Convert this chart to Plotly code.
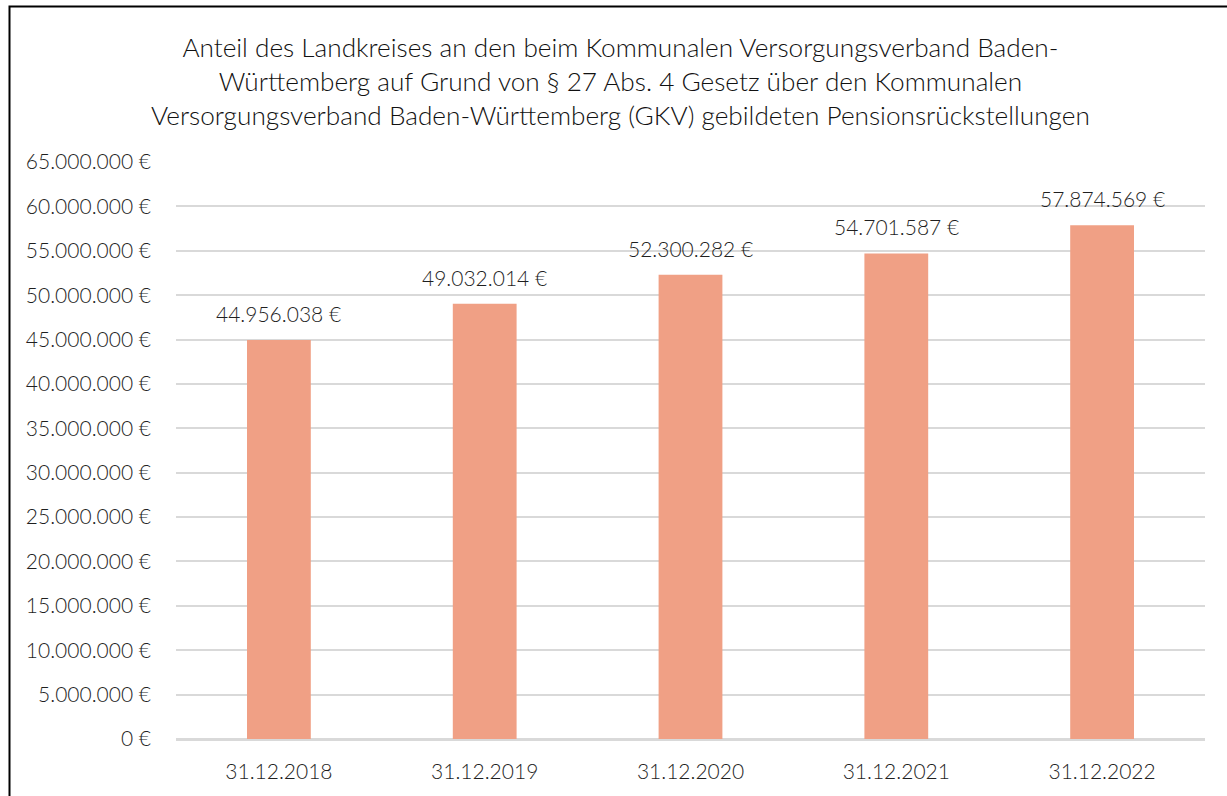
import plotly.graph_objects as go

categories = ["31.12.2018", "31.12.2019", "31.12.2020", "31.12.2021", "31.12.2022"]
values = [44956038, 49032014, 52300282, 54701587, 57874569]
tick_vals = [0, 5e6, 10e6, 15e6, 20e6, 25e6, 30e6, 35e6, 40e6, 45e6, 50e6, 55e6, 60e6, 65e6]
tick_text = ["0 €", "5.000.000 €", "10.000.000 €", "15.000.000 €", "20.000.000 €", "25.000.000 €",
             "30.000.000 €", "35.000.000 €", "40.000.000 €", "45.000.000 €", "50.000.000 €",
             "55.000.000 €", "60.000.000 €", "65.000.000 €"]
title_lines = [
    "Anteil des Landkreises an den beim Kommunalen Versorgungsverband Baden-",
    "Württemberg auf Grund von § 27 Abs. 4 Gesetz über den Kommunalen",
    "Versorgungsverband Baden-Württemberg (GKV) gebildeten Pensionsrückstellungen",
]

def fmt_eur(v):
    return f"{v:,.0f}".replace(",", ".") + " €"

FONT = "Lato"
TXT = "#1f1f1f"
WT = 300
W, H = 1227, 796
L, R, T, B = 176, 22, 162, 57

fig = go.Figure()
fig.add_trace(go.Bar(
    x=categories, y=values,
    marker=dict(color="#F0A085", line=dict(width=0)),
    width=0.31,
    hoverinfo="x+y",
))

for c, v in zip(categories, values):
    fig.add_annotation(x=c, y=v, text=fmt_eur(v), showarrow=False,
                       yanchor="bottom", yshift=12,
                       font=dict(family=FONT, size=21, color=TXT, weight=WT))

pw = W - L - R
ph = H - T - B
def px_x(p):
    return (p - L) / pw
def px_y(p):
    return (H - B - p) / ph

fig.add_annotation(xref="paper", yref="paper", x=px_x(620), y=px_y(81),
                   text="<br>".join(title_lines), showarrow=False,
                   xanchor="center", yanchor="middle", align="center",
                   font=dict(family=FONT, size=26.2, color="#111111", weight=WT))

fig.add_shape(type="rect", xref="paper", yref="paper",
              x0=px_x(9.5), x1=px_x(1240), y0=px_y(6.5), y1=px_y(810),
              line=dict(color="black", width=2), fillcolor="rgba(0,0,0,0)", layer="above")

fig.update_layout(
    width=W, height=H,
    margin=dict(l=L, r=R, t=T, b=B),
    paper_bgcolor="white", plot_bgcolor="white",
    showlegend=False,
    font=dict(family=FONT, size=21, color=TXT, weight=WT),
    bargap=0.69,
)
fig.update_xaxes(showgrid=False, showline=False, ticks="", ticklabelstandoff=18,
                 tickfont=dict(family=FONT, size=21, color=TXT, weight=WT))
fig.update_yaxes(range=[0, 65e6], tickvals=tick_vals, ticktext=tick_text,
                 showgrid=True, gridcolor="#d9d9d9", gridwidth=1.5,
                 zeroline=True, zerolinecolor="#d9d9d9", zerolinewidth=3,
                 showline=False, ticks="", ticklabelstandoff=24,
                 tickfont=dict(family=FONT, size=21, color=TXT, weight=WT))

fig.write_html("out.html", config={"displayModeBar": False},
               post_script="document.body.style.margin='0';document.body.style.overflow='hidden';")
